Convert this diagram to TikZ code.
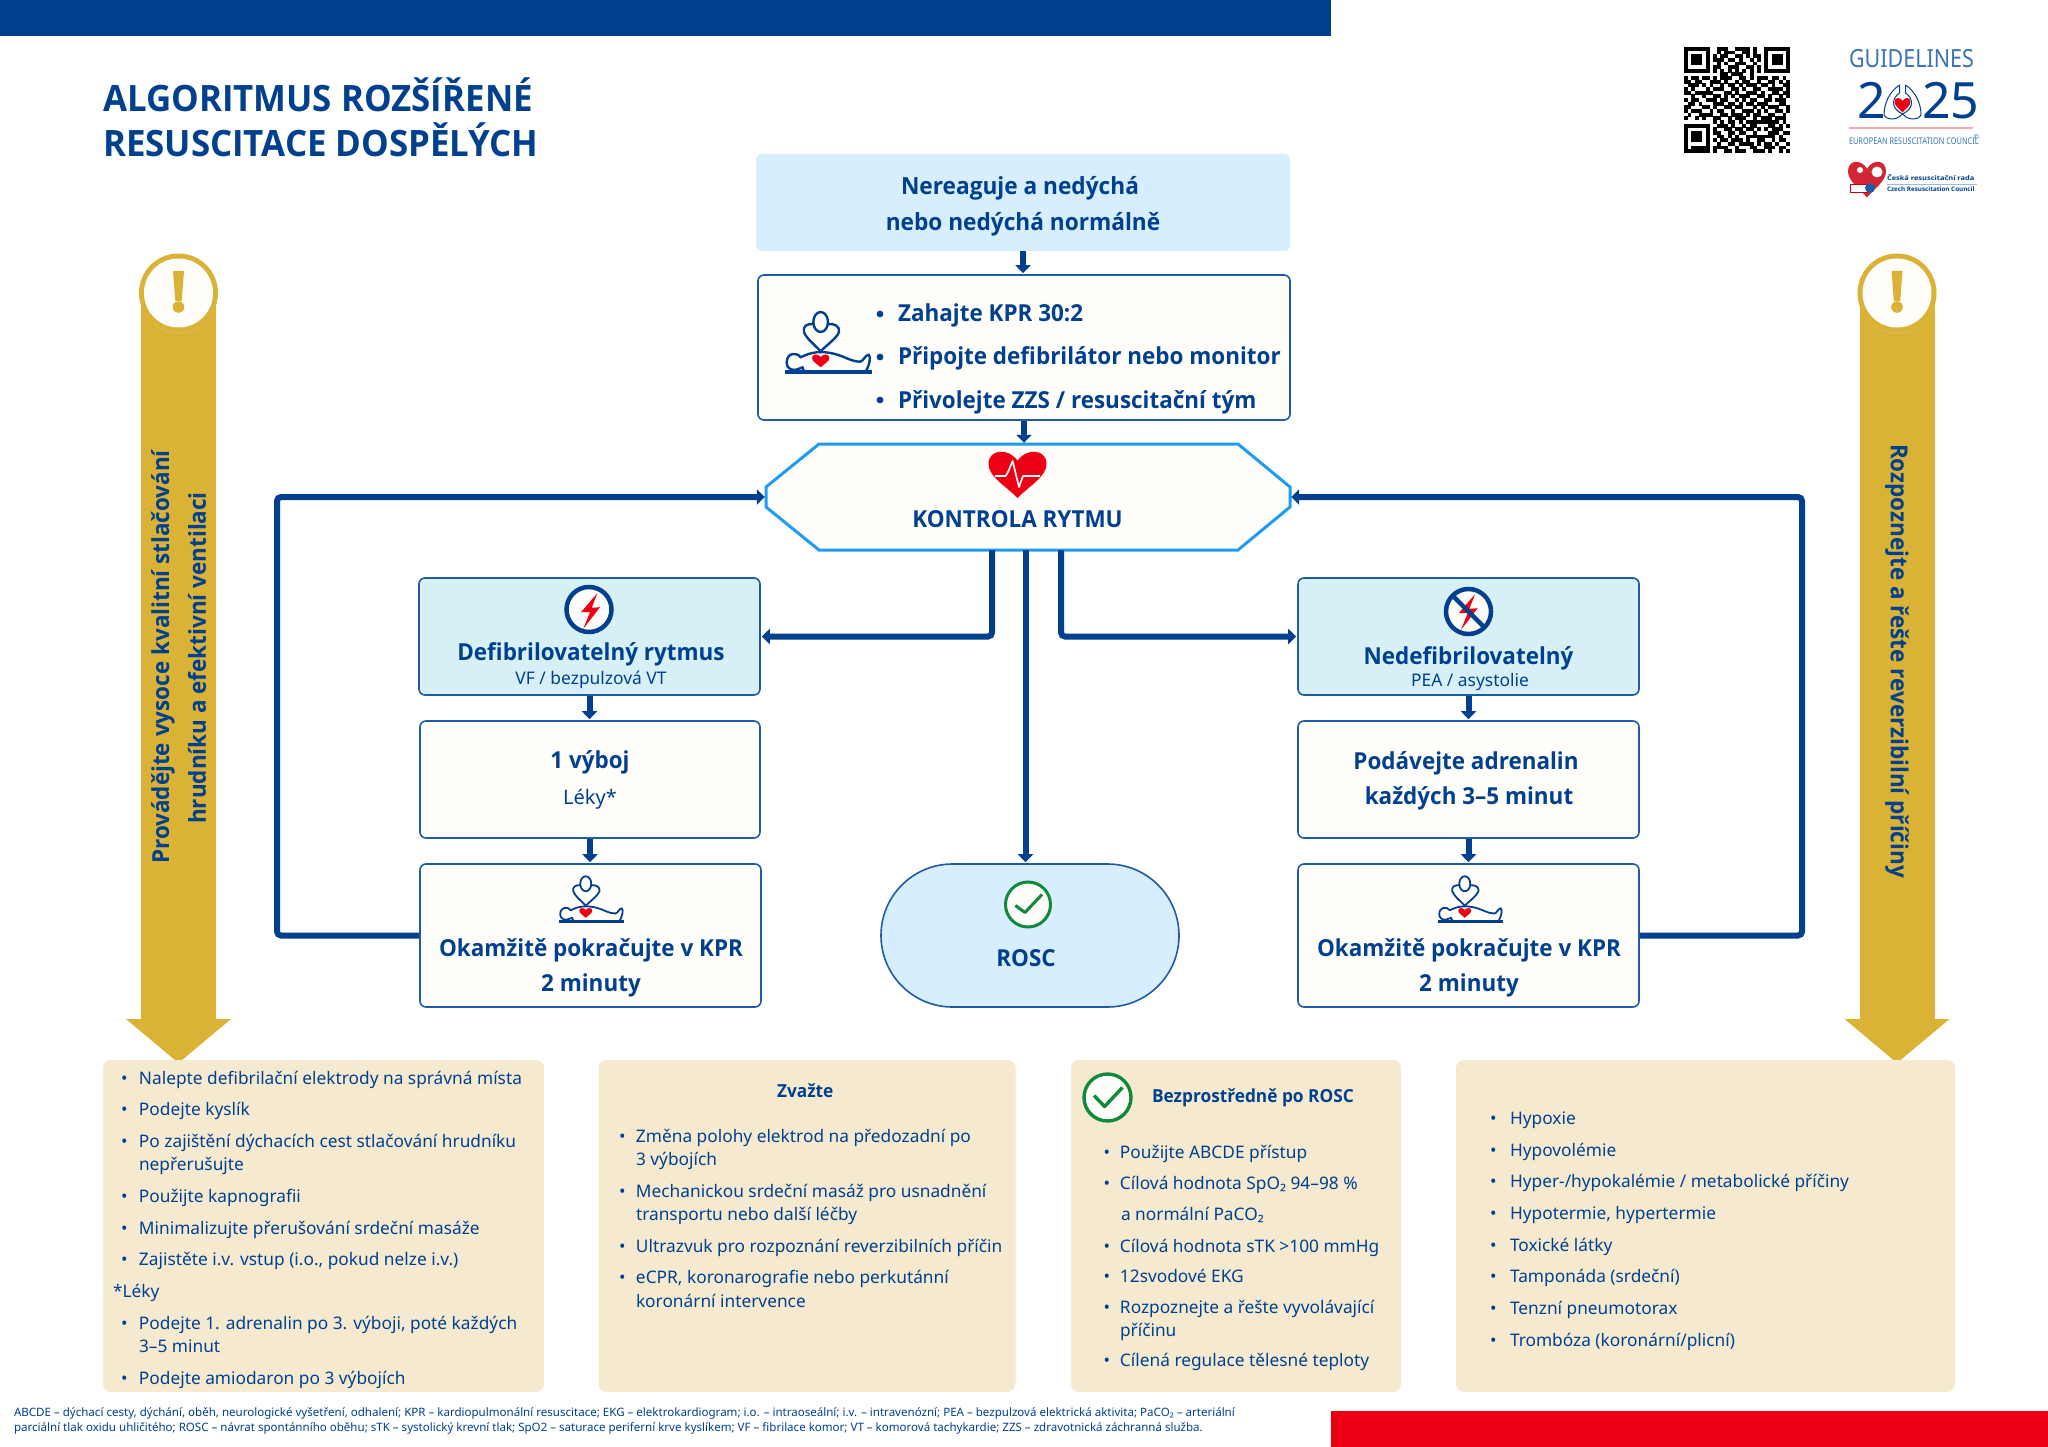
\documentclass[tikz,border=0pt]{standalone}
\usepackage{fontspec}
\setmainfont{Noto Sans}
\newfontfamily\osfam{Open Sans}[FakeStretch=0.96]
\newcommand{\bo}{\osfam\bfseries}
\usetikzlibrary{arrows.meta,shapes.misc}
\definecolor{navy}{HTML}{00408F}
\definecolor{edgeblue}{HTML}{1F5AA5}
\definecolor{hexblue}{HTML}{1E9CF5}
\definecolor{cream}{HTML}{FFFEFA}
\definecolor{paleblue}{HTML}{D7EEFE}
\definecolor{palecyan}{HTML}{D6F0F6}
\definecolor{beige}{HTML}{F5EACF}
\definecolor{gold}{HTML}{DAB236}
\definecolor{alarm}{HTML}{EE0014}
\definecolor{okgreen}{HTML}{0E8A3A}
\definecolor{logoblue}{HTML}{3A73B6}
\tikzset{
  x=1pt,y=-1pt,
  card/.style={rectangle,draw=edgeblue,line width=1.6pt,fill=cream,rounded corners=6pt,inner sep=0pt},
  tealcard/.style={card,fill=palecyan},
  sand/.style={rectangle,fill=beige,rounded corners=8pt,inner sep=0pt},
  lbl/.style={inner sep=0pt,outer sep=0pt,text=navy,anchor=base,yshift=-1.3pt},
  lblw/.style={lbl,anchor=base west},
  flow/.style={draw=navy,line width=6pt,-{Triangle[width=15pt,length=8pt]},shorten >=1pt},
  loopline/.style={flow,rounded corners=4pt},
}
\newcommand{\hd}{\bo\fontsize{23.4}{28}\selectfont}
\newcommand{\sm}{\fontsize{17.4}{22}\selectfont}
\newcommand{\li}[5]{\node[lblw] (#1) at (#2,#4) {\fontsize{17.3}{21}\selectfont\makebox[#3pt][l]{•}#5};}
\newcommand{\heartat}[5]{\begin{scope}[shift={(#1,#2)},xscale=#3,yscale=#4]
  \fill[#5] (0,-.55) .. controls (-.3,-1.1) and (-1,-1.05) .. (-1,-.42) .. controls (-1,.12) and (-.4,.5) .. (0,1)
     .. controls (.4,.5) and (1,.12) .. (1,-.42) .. controls (1,-1.05) and (.3,-1.1) .. (0,-.55) -- cycle;
  \end{scope}}
\newcommand{\cpricon}[4]{\begin{scope}[shift={(#1,#2)},scale=#3,draw=navy,line width=#4pt,line cap=round,line join=round]
  \draw (122,36) ellipse [x radius=22,y radius=30];
  \draw (100,42) .. controls (80,40) and (68,50) .. (72,66) .. controls (78,85) and (105,105) .. (122,124)
     .. controls (140,105) and (170,85) .. (177,66) .. controls (180,50) and (165,40) .. (145,42);
  \draw (62,142) .. controls (95,125) and (125,122) .. (165,132) .. controls (195,140) and (215,155) .. (240,155)
     .. controls (250,155) and (255,135) .. (266,134) .. controls (274,140) and (268,165) .. (258,184);
  \draw (62,142) .. controls (50,125) and (20,128) .. (20,158) .. controls (20,172) and (30,180) .. (45,180) .. controls (55,180) and (60,172) .. (68,172) .. controls (68,178) and (70,182) .. (74,184);
  \draw[line width=1.5*#4 pt,line cap=butt] (15,186) -- (275,186);
  \end{scope}
  \pgfmathsetmacro{\hx}{#1+122*#3}\pgfmathsetmacro{\hy}{#2+152*#3}\pgfmathsetmacro{\hw}{26*#3}\pgfmathsetmacro{\hh}{20*#3}
  \heartat{\hx}{\hy}{\hw}{\hh}{alarm}}
\newcommand{\goldarrow}[4]{% x centre, shaft half-width, head half-width, tip y
  \fill[gold] (#1-#2,293) rectangle (#1+#2,1019);
  \fill[gold] (#1-#3,1019) -- (#1+#3,1019) -- (#1,#4) -- cycle;
  \fill[gold!85!white] (#1,295) circle (38.5);
  \fill[gold] (#1,293) circle (39.5);
  \fill[cream] (#1,293) circle (34.5);
  \fill[gold] (#1-5.5,271) -- (#1+5.5,271) -- (#1+3.2,301) -- (#1-3.2,301) -- cycle;
  \fill[gold] (#1,307) circle (5.8);}
\newcommand{\bolt}[2]{\fill[alarm,shift={(#1,#2)}] (597.3,592.7) -- (581,611.7) -- (590,611.7) -- (583.3,628.3) -- (600,606.7) -- (591.7,607.3) -- cycle;}
\newcount\qrcol
\def\qrparse#1{\ifx#1\relax\else
  \ifnum#1=1 \fill[black] ({1684+\qrcol*3.655-.1},{47+\qrrow*3.655-.1}) rectangle ++(3.855,3.855);\fi
  \advance\qrcol by 1 \expandafter\qrparse\fi}
\begin{document}
\begin{tikzpicture}
\useasboundingbox (0,0) rectangle (2048,1447);
\fill[white] (0,0) rectangle (2048,1447);
\fill[navy] (0,0) rectangle (1331,36);
\fill[alarm] (1331,1411) rectangle (2048,1447);
% title
\node[lblw] (title1) at (103,110) {\bo\fontsize{36.3}{42}\selectfont ALGORITMUS ROZŠÍŘENÉ};
\node[lblw] (title2) at (103,155) {\bo\fontsize{36.3}{42}\selectfont RESUSCITACE DOSPĚLÝCH};
% QR
\foreach \qrrow/\qrbits in {
0/11111110011100111101001111111,
1/10000010010111001101001000001,
2/10111010101100110101101011101,
3/10111010111011010010101011101,
4/10111010010100111001001011101,
5/10000010110011100110101000001,
6/11111110101010101010101111111,
7/00000000001101110010000000000,
8/10110110101110011010111011010,
9/11011001110100101100100110101,
10/01110101001011010111011010011,
11/10100010111001101001100111101,
12/11011111000110100111010011011,
13/00100100110101011100110100101,
14/10110011101100101011001101110,
15/01101000111011010110111000110,
16/11000110100110110001010111001,
17/10111001011001001110101001101,
18/01001111001101110101100110010,
19/10010100110010111001011101110,
20/00000000101011010111111111010,
21/11111110011101001011000110101,
22/10000010100110110110101011100,
23/10111010110011011001000111011,
24/10111010011010100111111110100,
25/10111010101101110100110010110,
26/10000010010011011110101101001,
27/10111110111100100011001110110,
28/11111110100110111001110100101}{
  \qrcol=0 \expandafter\qrparse\qrbits\relax
}
% ERC logo
\node[lblw,text=logoblue] (guide) at (1849,66.7) {\scalebox{.86}[1]{\fontsize{25}{30}\selectfont GUIDELINES}};
\node[lblw,text=navy] (yr2) at (1857,117.7) {\fontsize{50}{60}\selectfont 2};
\node[lblw,text=navy] (yr25) at (1922,117.7) {\fontsize{50}{60}\selectfont 25};
\begin{scope}[draw=navy,line width=1pt,line join=round]
\draw (1899.5,85) .. controls (1889,92) and (1884,104) .. (1884,115) .. controls (1886,120) and (1895,120) .. (1899,117) -- (1902.5,114);
\draw (1905.5,85) .. controls (1916,92) and (1921,104) .. (1921,115) .. controls (1919,120) and (1910,120) .. (1906,117) -- (1902.5,114);
\draw (1899.5,85) -- (1899.5,93) .. controls (1892,98) and (1890,108) .. (1902.5,114);
\draw (1905.5,85) -- (1905.5,93) .. controls (1913,98) and (1915,108) .. (1902.5,114);
\end{scope}
\heartat{1902.5}{105}{8}{7.5}{alarm}
\draw[alarm!35!white,line width=1.2pt] (1849,128) -- (1973,128);
\node[lblw,text=logoblue] (erc) at (1849,143.7) {\scalebox{.8}[1]{\fontsize{9.2}{11}\selectfont EUROPEAN RESUSCITATION COUNCIL}};
\node[lblw,text=logoblue] (ercc) at (1973.5,138.7) {\fontsize{7}{8}\selectfont ©};
\heartat{1867}{179}{19}{18.5}{alarm!85!black!85!white}
\fill[white] (1877,172) circle (5.5);
\fill[white] (1860,170) circle (3);
\draw[alarm!85!black,fill=white,line width=.8pt] (1850,184) rectangle (1867,192);
\fill[edgeblue] (1870,188) circle (5);
\node[lblw,text=navy] (crr1) at (1887,179.2) {\bo\scalebox{1.21}[1]{\fontsize{6.4}{8}\selectfont Česká resuscitační rada}};
\draw[logoblue!50!white,line width=.7pt] (1887,184.5) -- (1977,184.5);
\node[lblw,text=navy] (crr2) at (1887,190.7) {\bo\scalebox{1.06}[1]{\fontsize{6.2}{8}\selectfont Czech Resuscitation Council}};
% gold arrows
\goldarrow{178.5}{37.5}{52.5}{1063}
\goldarrow{1897}{37.5}{52.5}{1063}
\node[inner sep=0,text=navy,rotate=90] (sideL1) at (163,657) {\hd Provádějte vysoce kvalitní stlačování};
\node[inner sep=0,text=navy,rotate=90] (sideL2) at (197,658) {\hd hrudníku a efektivní ventilaci};
\node[inner sep=0,text=navy,rotate=-90] (sideR) at (1897,661) {\hd Rozpoznejte a řešte reverzibilní příčiny};
% flow boxes
\node[rectangle,fill=paleblue,rounded corners=6pt,inner sep=0pt,minimum width=534pt,minimum height=97pt] (start) at (1023,202.5) {};
\node[card,minimum width=532pt,minimum height=145pt] (cpr) at (1024,347.5) {};
\draw[hexblue,line width=3pt,fill=cream,line join=miter] (819,444) -- (1238,444) -- (1290,487) -- (1290,507) -- (1238,550) -- (819,550) -- (766,507) -- (766,487) -- cycle;
\node[rectangle,inner sep=0pt,minimum width=524pt,minimum height=106pt] (rhythm) at (1028,497) {};
\node[tealcard,minimum width=341pt,minimum height=117pt] (shock) at (589.5,636.5) {};
\node[card,minimum width=340pt,minimum height=117pt] (one) at (590,779.5) {};
\node[card,minimum width=341pt,minimum height=143pt] (kprL) at (590.5,935.5) {};
\node[tealcard,minimum width=341pt,minimum height=117pt] (noshock) at (1468.5,636.5) {};
\node[card,minimum width=341pt,minimum height=117pt] (adr) at (1468.5,779.5) {};
\node[card,minimum width=341pt,minimum height=143pt] (kprR) at (1468.5,935.5) {};
\node[rounded rectangle,draw=edgeblue,line width=1.6pt,fill=paleblue,inner sep=0pt,minimum width=298pt,minimum height=143pt] (rosc) at (1030,935.5) {};
\node[sand,minimum width=441pt,minimum height=332pt] (noteA) at (323.5,1226) {};
\node[sand,minimum width=417pt,minimum height=332pt] (noteB) at (807,1226) {};
\node[sand,minimum width=330pt,minimum height=332pt] (noteC) at (1236,1226) {};
\node[sand,minimum width=499pt,minimum height=332pt] (noteD) at (1705.5,1226) {};
% connectors
\coordinate (loopL) at (277,715);
\coordinate (loopR) at (1802,715);
\draw[flow] (start.south) -- (start.south |- cpr.north);
\draw[flow] (cpr.south) -- (cpr.south |- rhythm.north);
\draw[flow] (shock.south) -- (shock.south |- one.north);
\draw[flow] (one.south) -- (one.south |- kprL.north);
\draw[flow] (noshock.south) -- (noshock.south |- adr.north);
\draw[flow] (adr.south) -- (adr.south |- kprR.north);
\draw[loopline] ([xshift=-36pt]rhythm.south) |- (shock.east);
\draw[loopline] ([xshift=33pt]rhythm.south) |- (noshock.west);
\draw[flow] ([xshift=-2.5pt]rhythm.south) -- ([xshift=-2.5pt]rhythm.south |- rosc.north);
\draw[loopline] (kprL.west) -| (loopL) |- (rhythm.west);
\draw[loopline] (kprR.east) -| (loopR) |- (rhythm.east);
% flow text
\node[lbl] (startT1) at (1020,193) {\hd\fontsize{23.6}{28}\selectfont Nereaguje a nedýchá};
\node[lbl] (startT2) at (1023,229) {\hd\fontsize{23.6}{28}\selectfont nebo nedýchá normálně};
\cpricon{780}{310}{.3333}{2.4}
\fill[navy] (880,314) circle (3.4) (880,357) circle (3.4) (880,400) circle (3.4);
\node[lblw] (cprT1) at (898,320) {\hd Zahajte KPR 30:2};
\node[lblw] (cprT2) at (898,363) {\hd Připojte defibrilátor nebo monitor};
\node[lblw] (cprT3) at (898,407) {\hd Přivolejte ZZS / resuscitační tým};
% ecg heart
\heartat{1017.5}{474}{29}{24}{alarm}
\draw[white,line width=1.7pt,line join=round] (995,476) -- (1005.6,476) -- (1008,472) -- (1012.6,461) -- (1019,487) -- (1023,476) -- (1040,476);
\node[lbl] (rhythmT) at (1017.5,526) {\hd KONTROLA RYTMU};
% shock
\draw[navy,line width=4.5pt,fill=cream] (589,609.5) circle (22.5);
\bolt{0}{0.5}
\node[lbl] (shockT) at (591,659) {\hd Defibrilovatelný rytmus};
\node[lbl] (shockS) at (591,683) {\sm VF / bezpulzová VT};
\node[lbl] (oneT) at (590,767) {\hd 1 výboj};
\node[lbl] (oneS) at (590,803) {\fontsize{20}{24}\selectfont Léky*};
\cpricon{555.25}{874.75}{.25}{1.8}
\node[lbl] (kprLT1) at (591,955) {\hd Okamžitě pokračujte v KPR};
\node[lbl] (kprLT2) at (591,990) {\hd 2 minuty};
% no shock
\draw[navy,line width=4.5pt,fill=cream] (1468.5,611.5) circle (22.5);
\bolt{877.7}{1.5}
\draw[navy,line width=4.5pt] (1452,595) -- (1485,628);
\node[lbl] (noshockT) at (1468.5,663) {\hd Nedefibrilovatelný};
\node[lbl] (noshockS) at (1470,685) {\sm PEA / asystolie};
\node[lbl] (adrT1) at (1466,768) {\hd Podávejte adrenalin};
\node[lbl] (adrT2) at (1469,803) {\hd každých 3–5 minut};
\cpricon{1434.25}{874.75}{.25}{1.8}
\node[lbl] (kprRT1) at (1469,955) {\hd Okamžitě pokračujte v KPR};
\node[lbl] (kprRT2) at (1469,990) {\hd 2 minuty};
% rosc
\draw[okgreen,line width=3pt,fill=cream] (1028,904.5) circle (22.5);
\draw[okgreen,line width=3pt,line join=round] (1015.4,905.5) -- (1025,912.5) -- (1042,894.5);
\node[lbl] (roscT) at (1026,965) {\hd ROSC};
% note A
\li{a1}{121}{18}{1083}{Nalepte defibrilační elektrody na správná místa}
\li{a2}{121}{18}{1114}{Podejte kyslík}
\li{a3}{121}{18}{1146}{Po zajištění dýchacích cest stlačování hrudníku}
\node[lblw] (a3b) at (139,1169) {\fontsize{17.3}{21}\selectfont nepřerušujte};
\li{a4}{121}{18}{1201}{Použijte kapnografii}
\li{a5}{121}{18}{1233}{Minimalizujte přerušování srdeční masáže}
\li{a6}{121}{18}{1264}{Zajistěte i.v. vstup (i.o., pokud nelze i.v.)}
\node[lblw] (a7) at (113,1296) {\fontsize{17.3}{21}\selectfont *Léky};
\li{a8}{121}{18}{1328}{Podejte 1. adrenalin po 3. výboji, poté každých}
\node[lblw] (a8b) at (139,1351) {\fontsize{17.3}{21}\selectfont 3–5 minut};
\li{a9}{121}{18}{1383}{Podejte amiodaron po 3 výbojích}
% note B
\node[lblw] (b0) at (777,1096) {\bo\fontsize{18}{21}\selectfont Zvažte};
\li{b1}{619}{17}{1141}{Změna polohy elektrod na předozadní po}
\node[lblw] (b1b) at (636,1164) {\fontsize{17.3}{21}\selectfont 3 výbojích};
\li{b2}{619}{17}{1196}{Mechanickou srdeční masáž pro usnadnění}
\node[lblw] (b2b) at (636,1219) {\fontsize{17.3}{21}\selectfont transportu nebo další léčby};
\li{b3}{619}{17}{1251}{Ultrazvuk pro rozpoznání reverzibilních příčin}
\li{b4}{619}{17}{1282}{eCPR, koronarografie nebo perkutánní}
\node[lblw] (b4b) at (636,1306) {\fontsize{17.3}{21}\selectfont koronární intervence};
% note C
\draw[okgreen,line width=3.4pt,fill=cream] (1107.5,1097.5) circle (23.5);
\draw[okgreen,line width=3.4pt,line join=round] (1094,1095.5) -- (1104.6,1106.5) -- (1122.5,1087.5);
\node[lblw] (c0) at (1152,1101) {\bo\fontsize{18}{21}\selectfont Bezprostředně po ROSC};
\li{c1}{1103.6}{16.4}{1157}{Použijte ABCDE přístup}
\li{c2}{1103.6}{16.4}{1188}{Cílová hodnota SpO₂ 94–98 \%}
\node[lblw] (c2b) at (1121,1219) {\fontsize{17.3}{21}\selectfont a normální PaCO₂};
\li{c3}{1103.6}{16.4}{1251}{Cílová hodnota sTK >100 mmHg}
\li{c4}{1103.6}{16.4}{1281}{12svodové EKG}
\li{c5}{1103.6}{16.4}{1312}{Rozpoznejte a řešte vyvolávající}
\node[lblw] (c5b) at (1120,1335) {\fontsize{17.3}{21}\selectfont příčinu};
\li{c6}{1103.6}{16.4}{1365}{Cílená regulace tělesné teploty}
% note D
\li{d1}{1490}{20}{1123}{Hypoxie}
\li{d2}{1490}{20}{1155}{Hypovolémie}
\li{d3}{1490}{20}{1186}{Hyper-/hypokalémie / metabolické příčiny}
\li{d4}{1490}{20}{1218}{Hypotermie, hypertermie}
\li{d5}{1490}{20}{1250}{Toxické látky}
\li{d6}{1490}{20}{1281}{Tamponáda (srdeční)}
\li{d7}{1490}{20}{1313}{Tenzní pneumotorax}
\li{d8}{1490}{20}{1345}{Trombóza (koronární/plicní)}
% footnote
\node[lblw] (foot1) at (14,1415) {\fontsize{11.55}{14}\selectfont ABCDE – dýchací cesty, dýchání, oběh, neurologické vyšetření, odhalení; KPR – kardiopulmonální resuscitace; EKG – elektrokardiogram; i.o. – intraoseální; i.v. – intravenózní; PEA – bezpulzová elektrická aktivita; PaCO₂ – arteriální};
\node[lblw] (foot2) at (14,1430) {\fontsize{11.55}{14}\selectfont parciální tlak oxidu uhličitého; ROSC – návrat spontánního oběhu; sTK – systolický krevní tlak; SpO2 – saturace periferní krve kyslíkem; VF – fibrilace komor; VT – komorová tachykardie; ZZS – zdravotnická záchranná služba.};
\end{tikzpicture}
\end{document}
